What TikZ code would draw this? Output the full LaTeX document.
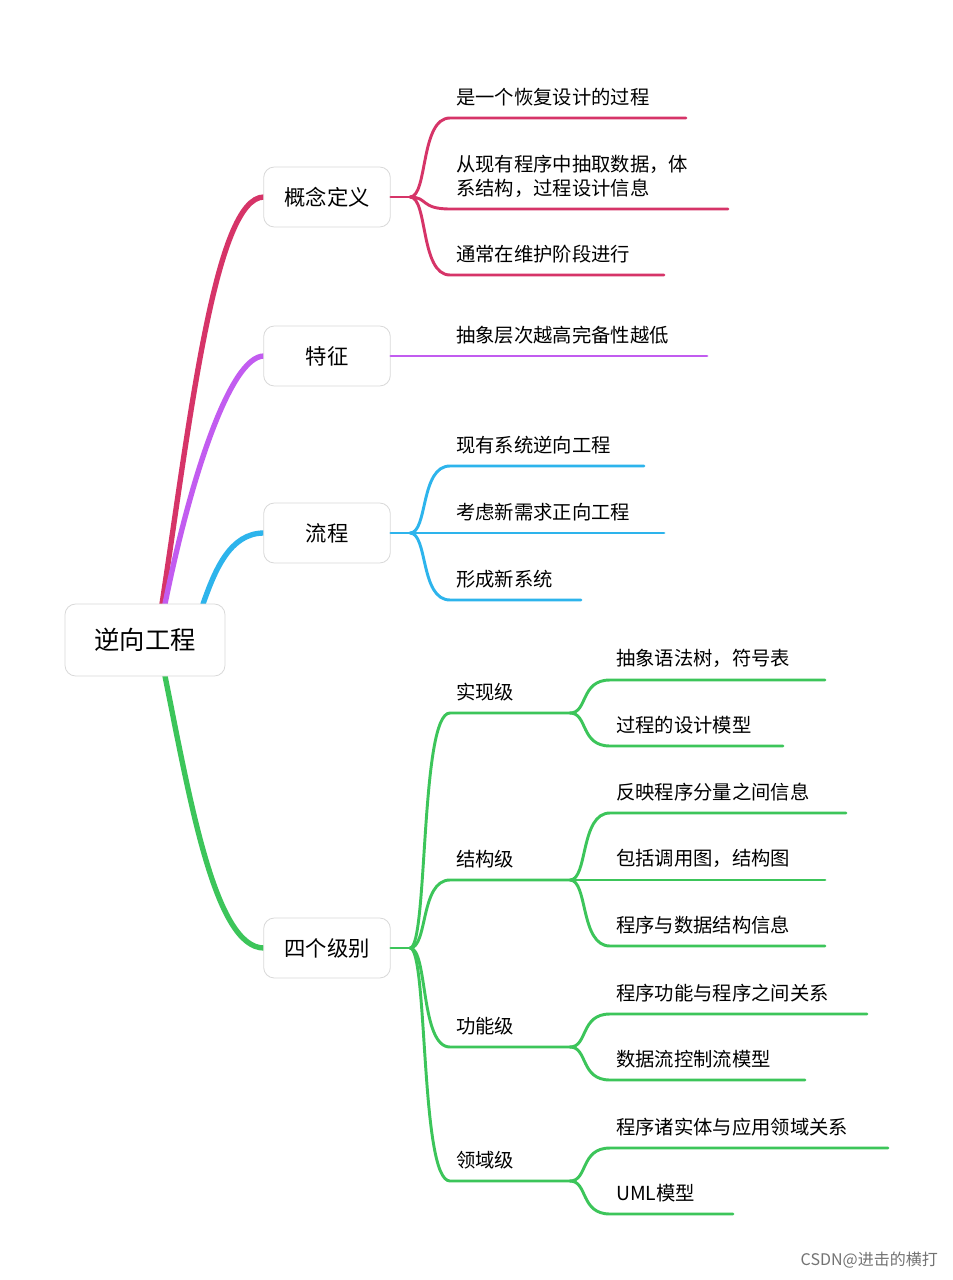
\documentclass[tikz,border=0pt]{standalone}
\usepackage{fontspec}
\setmainfont{Noto Sans CJK SC}
\definecolor{colM}{HTML}{D63468}
\definecolor{colP}{HTML}{C25CF0}
\definecolor{colB}{HTML}{2DB4EC}
\definecolor{colG}{HTML}{3CC55A}
\begin{document}
\begin{tikzpicture}[x=0.75pt,y=-0.75pt,
  box/.style={draw=black!15,rounded corners=8pt,fill=white,line width=0.6pt},
  lf/.style={anchor=south west,inner sep=0pt,font=\fontsize{14.5}{18}\selectfont,align=left},
  ln/.style={line width=2.2pt,line cap=round},
  thickfive/.style={line width=4pt,line cap=round}]
\useasboundingbox[fill=white] (0,0) rectangle (952,1280);
\coordinate (r1) at (162,604); \coordinate (r2) at (165,604); \coordinate (r3) at (203,604); \coordinate (r4) at (165,676);
\coordinate (aw) at (264,197); \coordinate (bw) at (264,356); \coordinate (cw) at (264,533); \coordinate (dw) at (264,948);
\draw[thickfive,colM] (r1) .. controls (190,420) and (215,197) .. (aw);
\draw[thickfive,colP] (r2) .. controls (190,480) and (230,356) .. (bw);
\draw[thickfive,colB] (r3) .. controls (215,570) and (230,533) .. (cw);
\draw[thickfive,colG] (r4) .. controls (190,800) and (215,948) .. (dw);
% root
\node[box,minimum width=120pt,minimum height=54pt,font=\fontsize{19}{22}\selectfont] (root) at (145,640) {逆向工程};
\node[box,minimum width=95pt,minimum height=45pt,font=\fontsize{16}{20}\selectfont] (a) at (327,197) {概念定义};
\node[box,minimum width=95pt,minimum height=45pt,font=\fontsize{16}{20}\selectfont] (b) at (327,356) {特征};
\node[box,minimum width=95pt,minimum height=45pt,font=\fontsize{16}{20}\selectfont] (c) at (327,533) {流程};
\node[box,minimum width=95pt,minimum height=45pt,font=\fontsize{16}{20}\selectfont] (d) at (327,948) {四个级别};
% 概念定义
\coordinate (ha) at (410,197);
\draw[ln,colM] (a.east) -- (ha);
\foreach \y/\e in {118/686,209/728,275/664}{
 \draw[ln,colM] (ha) .. controls (428,197) and (420,\y) .. (450,\y) -- (\e,\y);}
\node[lf] (a1) at (456,106) {是一个恢复设计的过程};
\node[lf] (a2) at (456,198) {从现有程序中抽取数据，体\\系结构，过程设计信息};
\node[lf] (a3) at (456,263) {通常在维护阶段进行};
% 特征
\coordinate (be) at (707,356);
\draw[ln,colP] (b.east) -- (be);
\node[lf] (b1) at (456,344) {抽象层次越高完备性越低};
% 流程
\coordinate (hc) at (410,533);
\draw[ln,colB] (c.east) -- (hc);
\foreach \y/\e in {466/644,533/664,600/581}{
 \draw[ln,colB] (hc) .. controls (428,533) and (420,\y) .. (450,\y) -- (\e,\y);}
\node[lf] (c1) at (456,454) {现有系统逆向工程};
\node[lf] (c2) at (456,521) {考虑新需求正向工程};
\node[lf] (c3) at (456,588) {形成新系统};
% 四个级别
\coordinate (hd) at (410,948);
\draw[ln,colG] (d.east) -- (hd);
\foreach \y in {713,880,1047,1181}{
 \draw[ln,colG] (hd) .. controls (428,948) and (420,\y) .. (450,\y) -- (570,\y);}
\node[lf] (d1) at (456,701) {实现级};
\node[lf] (d2) at (456,868) {结构级};
\node[lf] (d3) at (456,1035) {功能级};
\node[lf] (d4) at (456,1169) {领域级};
\foreach \h/\y/\e in {713/680/825,713/746/783,880/813/846,880/880/825,880/946/825,1047/1014/867,1047/1080/805,1181/1148/888,1181/1214/733}{
 \draw[ln,colG] (570,\h) .. controls (588,\h) and (580,\y) .. (610,\y) -- (\e,\y);}
\node[lf] (e1) at (616,668) {抽象语法树，符号表};
\node[lf] (e2) at (616,734) {过程的设计模型};
\node[lf] (e3) at (616,801) {反映程序分量之间信息};
\node[lf] (e4) at (616,868) {包括调用图，结构图};
\node[lf] (e5) at (616,934) {程序与数据结构信息};
\node[lf] (e6) at (616,1002) {程序功能与程序之间关系};
\node[lf] (e7) at (616,1068) {数据流控制流模型};
\node[lf] (e8) at (616,1136) {程序诸实体与应用领域关系};
\node[lf] (e9) at (616,1202) {UML模型};
\node[anchor=east,text=black!55,font=\fontsize{12}{14}\selectfont,inner sep=0pt] (wm) at (938,1260) {CSDN@进击的横打};
\end{tikzpicture}
\end{document}
